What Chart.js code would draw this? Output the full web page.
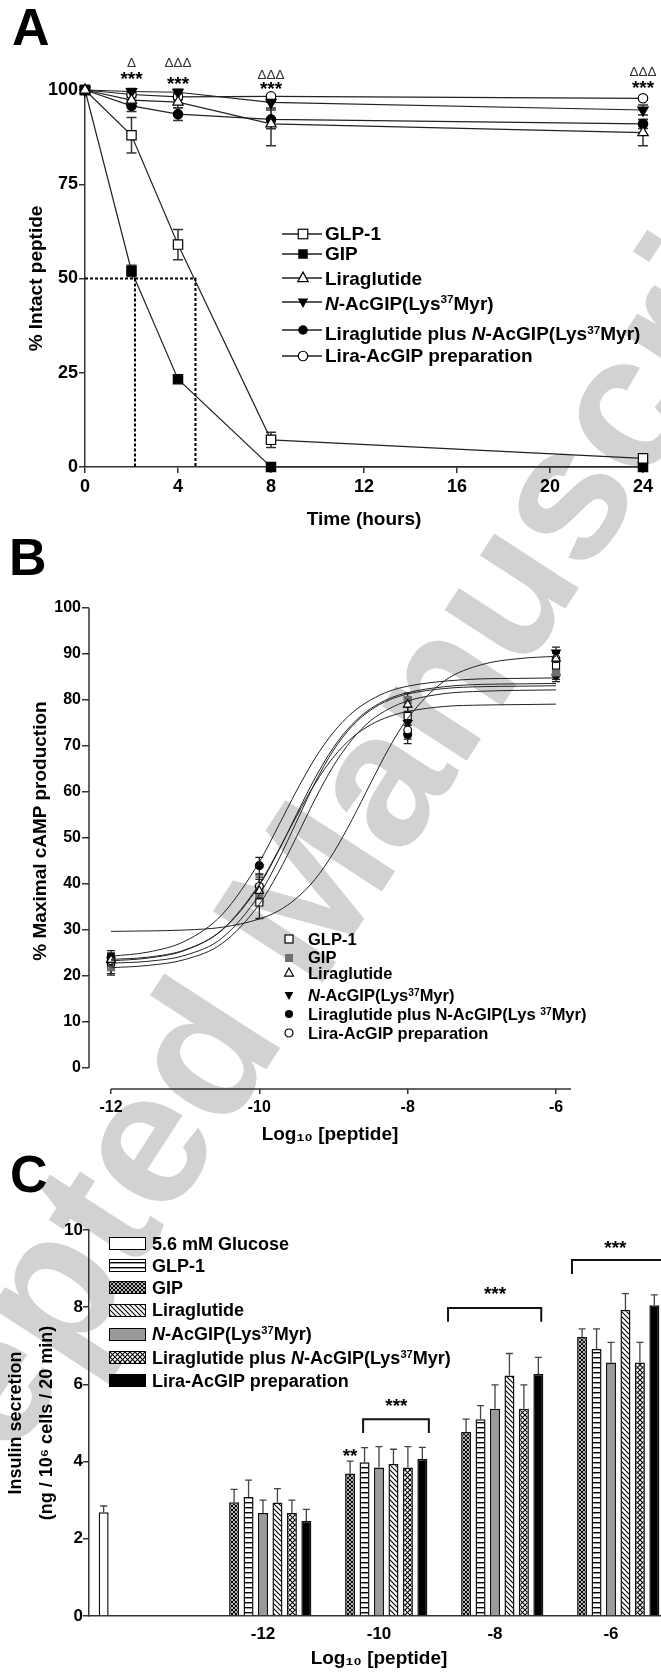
<!DOCTYPE html>
<html>
<head>
<meta charset="utf-8">
<title>Peptide stability, cAMP production and insulin secretion</title>
<script src="https://cdn.jsdelivr.net/npm/chart.js@4.4.1/dist/chart.umd.min.js"></script>
<style>
  html, body { margin:0; padding:0; background:#fff; }
  body { position:relative; width:661px; height:1676px; overflow:hidden;
         font-family:"Liberation Sans", Arial, sans-serif; font-weight:bold; color:#000; }
  canvas { position:absolute; left:0; z-index:1; }
  #wm { position:absolute; left:289px; top:913px; z-index:0; font-size:190px; color:#d2d2d2;
        white-space:nowrap; line-height:1; transform:translate(-50%,-50%) rotate(-57deg); }
  .abs { position:absolute; white-space:nowrap; line-height:1; z-index:2; }
  .panel { font-size:52px; }
  sup { font-size:62%; position:relative; top:-0.55em; vertical-align:baseline; line-height:0; }
  .sw { position:absolute; z-index:2; box-sizing:border-box; border:1.5px solid #000; width:37px; height:13px; }
  svg { position:absolute; z-index:2; overflow:visible; }
</style>
</head>
<body>
<div id="wm">Accepted Manuscript</div>
<div class="abs panel" style="left:12px;top:1px">A</div>
<div class="abs panel" style="left:9px;top:531px">B</div>
<div class="abs panel" style="left:10px;top:1148px">C</div>
<div class="abs" id="bTitleY" style="left:39px;top:831px;font-size:19px;transform:translate(-50%,-50%) rotate(-90deg)">% Maximal cAMP production</div>
<div id="legends"></div>
<canvas id="cA" width="661" height="540" style="top:0"></canvas>
<canvas id="cB" width="661" height="610" style="top:540px"></canvas>
<canvas id="cC" width="680" height="526" style="top:1150px"></canvas>
<script>
/* =================== A: stabilidade (% peptídeo intacto) =================== */
const timeHours   = [0, 2, 4, 8, 24];
const glp1A       = [100, 88, 59, 7.2, 2.3];
const glp1AErr    = [0, 4.7, 4.0, 2.0, 0.6];
const gipA        = [100, 52, 23.3, 0, 0];
const gipAErr     = [0, 1.5, 0.8, 0, 0];
const liraA       = [100, 97.3, 96.8, 91.0, 88.7];
const liraAErr    = [0, 1.5, 1.5, 5.8, 3.5];
const nacA        = [100, 99.6, 99.4, 96.7, 94.7];
const nacAErr     = [0, 0.8, 0.8, 1.5, 1.3];
const comboA      = [100, 95.8, 93.6, 92.2, 91.0];
const comboAErr   = [0, 1.5, 1.7, 2.5, 1.2];
const prepA       = [100, 98.8, 98.2, 98.3, 97.8];
const prepAErr    = [0, 0.8, 0.8, 0.5, 0.5];
const halfLifeGIP = 2.15, halfLifeGLP1 = 4.75;
const sigTimes    = [2, 4, 8, 24];
const starLevelA  = [101.3, 100.0, 98.7, 98.9];
const deltaLevelA = [106.1, 106.1, 102.9, 103.7];
const deltaTextA  = ["\u0394", "\u0394\u0394\u0394", "\u0394\u0394\u0394", "\u0394\u0394\u0394"];

/* =================== B: cAMP (dose-resposta) =================== */
const doseB      = [-12, -10, -8, -6];
const glp1B      = [23.0, 36.0, 76.5, 87.5];
const glp1BErr   = [1.8, 3.5, 2.0, 1.5];
const gipB       = [22.0, 38.0, 80.0, 86.0];
const gipBErr    = [1.8, 2.0, 1.5, 1.5];
const liraB      = [23.5, 38.5, 79.0, 89.0];
const liraBErr   = [1.5, 2.5, 1.5, 1.2];
const nacB       = [22.5, 39.0, 75.0, 90.3];
const nacBErr    = [2.0, 2.5, 1.8, 1.2];
const comboB     = [24.0, 44.0, 72.5, 85.5];
const comboBErr  = [1.5, 1.8, 2.0, 1.5];
const prepB      = [23.3, 39.5, 73.5, 89.0];
const prepBErr   = [1.5, 2.5, 2.0, 1.2];
// curvas ajustadas
const curveX   = [-12, -11.5, -11, -10.5, -10, -9.75, -9.5, -9.25, -9, -8.75, -8.5, -8.25, -8, -7.5, -7, -6.5, -6];
const glp1Fit  = [29.7, 29.8, 30.0, 30.6, 32.4, 34.1, 36.9, 41.0, 46.8, 54.0, 61.9, 69.6, 76.0, 84.2, 87.7, 89.0, 89.5];
const gipFit   = [22.8, 23.2, 24.5, 28.3, 37.7, 45.0, 53.5, 62.0, 69.1, 74.3, 77.8, 80.0, 81.3, 82.5, 82.9, 83.0, 83.1];
const liraFit  = [23.6, 24.1, 25.7, 30.0, 39.7, 46.9, 55.1, 63.0, 69.7, 74.7, 78.1, 80.3, 81.6, 82.9, 83.4, 83.5, 83.6];
const nacFit   = [21.8, 22.3, 23.6, 27.1, 35.6, 42.3, 50.2, 58.4, 65.7, 71.4, 75.5, 78.1, 79.8, 81.4, 81.9, 82.1, 82.2];
const comboFit = [24.3, 25.2, 27.6, 33.4, 44.8, 52.4, 60.2, 67.3, 73.0, 77.2, 80.0, 81.9, 83.0, 84.1, 84.6, 84.7, 84.8];
const prepFit  = [23.3, 23.9, 25.6, 30.1, 40.0, 47.1, 54.7, 61.8, 67.6, 71.8, 74.6, 76.4, 77.5, 78.6, 78.9, 79.0, 79.1];
const bTicksX  = [-12, -10, -8, -6];
const bTicksY  = [0, 10, 20, 30, 40, 50, 60, 70, 80, 90, 100];

/* =================== C: secreção de insulina =================== */
const doseLabels  = ["", "-12", "-10", "-8", "-6"];
const glucoseC    = [2.69, null, null, null, null];
const glucoseCErr = [0.16, 0, 0, 0, 0];
const gipC        = [0, 2.95, 3.69, 4.77, 7.23];
const gipCErr     = [0, 0.33, 0.32, 0.33, 0.21];
const glp1C       = [0, 3.08, 3.98, 5.10, 6.92];
const glp1CErr    = [0, 0.44, 0.38, 0.35, 0.52];
const nacC        = [0, 2.67, 3.85, 5.37, 6.57];
const nacCErr     = [0, 0.33, 0.54, 0.62, 0.52];
const liraC       = [0, 2.94, 3.94, 6.23, 7.93];
const liraCErr    = [0, 0.36, 0.38, 0.57, 0.42];
const comboC      = [0, 2.67, 3.85, 5.37, 6.57];
const comboCErr   = [0, 0.33, 0.54, 0.62, 0.52];
const prepC       = [0, 2.46, 4.07, 6.27, 8.05];
const prepCErr    = [0, 0.30, 0.30, 0.43, 0.27];
const bracketCat   = [2, 3, 4];
const bracketFrom  = [1.9, -0.25, 0.3];
const bracketTo    = [6.45, 6.2, 9.5];
const bracketLevel = [5.10, 7.98, 9.22];
const bracketDrop  = 0.36;
const starCat   = [2, 2, 3, 4];
const starSlot  = [1, 4.2, 3, 3.3];
const starLevel = [3.99, 5.28, 8.19, 9.38];
const starText  = ["**", "***", "***", "***"];

/* =================== estilos comuns =================== */
const FAM = '"Liberation Sans", Arial, sans-serif';
const bold = (size, extra) => Object.assign({family: FAM, size, weight: "bold"}, extra || {});
const AX = "#333";

/* --------------- plugins --------------- */
const errorBars = {
  id: "errorBars",
  beforeDatasetsDraw(chart){
    const {ctx, scales:{y}} = chart;
    chart.data.datasets.forEach((ds, di) => {
      if(!ds.errors) return;
      const meta = chart.getDatasetMeta(di);
      ctx.save();
      ctx.strokeStyle = ds.errColor || "#333";
      ctx.lineWidth = ds.errWidth || 1.4;
      meta.data.forEach((el, i) => {
        const d = ds.data[i];
        const v = (d && typeof d === "object") ? d.y : d;
        const e = ds.errors[i];
        if(v == null || !e) return;
        const x = el.x, c = (ds.cap || 8) / 2;
        const yt = y.getPixelForValue(v + e);
        const yb = ds.errUp ? y.getPixelForValue(v) : y.getPixelForValue(v - e);
        ctx.beginPath();
        ctx.moveTo(x, yb); ctx.lineTo(x, yt);
        ctx.moveTo(x - c, yt); ctx.lineTo(x + c, yt);
        if(!ds.errUp){ ctx.moveTo(x - c, yb); ctx.lineTo(x + c, yb); }
        ctx.stroke();
      });
      ctx.restore();
    });
  }
};

const annotA = {
  id: "annotA",
  afterDatasetsDraw(chart){
    const {ctx, scales:{x, y}} = chart;
    ctx.save();
    ctx.textAlign = "center"; ctx.textBaseline = "alphabetic";
    sigTimes.forEach((t, i) => {
      const px = x.getPixelForValue(t);
      ctx.fillStyle = "#000"; ctx.font = "bold 19px " + FAM;
      ctx.fillText("***", px, y.getPixelForValue(starLevelA[i]));
      ctx.fillStyle = "#333"; ctx.font = "13.5px " + FAM;
      ctx.fillText(deltaTextA[i], px, y.getPixelForValue(deltaLevelA[i]));
    });
    ctx.restore();
  }
};

// eixos "soltos" do painel B
const axisLinesB = {
  id: "axisLinesB",
  afterDraw(chart){
    const {ctx, chartArea:a, scales:{x, y}} = chart;
    ctx.save(); ctx.strokeStyle = AX; ctx.lineWidth = 1.5;
    ctx.beginPath();
    ctx.moveTo(x.getPixelForValue(bTicksX[0]), a.bottom); ctx.lineTo(a.right, a.bottom);
    ctx.moveTo(a.left, y.getPixelForValue(0)); ctx.lineTo(a.left, y.getPixelForValue(100));
    ctx.stroke(); ctx.restore();
  }
};

const annotC = {
  id: "annotC",
  afterDatasetsDraw(chart){
    const {ctx, scales:{y}} = chart;
    const m1 = chart.getDatasetMeta(1), m2 = chart.getDatasetMeta(2);
    const slotX = (c, s) => m1.data[c].x + (s - 1) * (m2.data[c].x - m1.data[c].x);
    ctx.save();
    ctx.strokeStyle = "#111"; ctx.lineWidth = 2;
    bracketCat.forEach((c, i) => {
      const x1 = slotX(c, bracketFrom[i]), x2 = slotX(c, bracketTo[i]);
      const yt = y.getPixelForValue(bracketLevel[i]);
      const yb = y.getPixelForValue(bracketLevel[i] - bracketDrop);
      ctx.beginPath();
      ctx.moveTo(x1, yb); ctx.lineTo(x1, yt); ctx.lineTo(x2, yt); ctx.lineTo(x2, yb);
      ctx.stroke();
    });
    ctx.fillStyle = "#000"; ctx.font = "bold 19px " + FAM; ctx.textAlign = "center";
    starCat.forEach((c, i) => ctx.fillText(starText[i], slotX(c, starSlot[i]), y.getPixelForValue(starLevel[i])));
    ctx.restore();
  }
};

/* --------------- padrões das barras --------------- */
function tile(size, draw){
  const c = document.createElement("canvas");
  c.width = c.height = size;
  const g = c.getContext("2d");
  g.fillStyle = "#fff"; g.fillRect(0, 0, size, size);
  g.strokeStyle = "#000"; g.fillStyle = "#000"; g.lineWidth = 1.1;
  draw(g, size);
  return c;
}
const back = (g, s) => { g.beginPath(); g.moveTo(-1, -1); g.lineTo(s + 1, s + 1);
  g.moveTo(-1, s - 1); g.lineTo(1, s + 1); g.moveTo(s - 1, -1); g.lineTo(s + 1, 1); g.stroke(); };
const fwd = (g, s) => { g.beginPath(); g.moveTo(-1, s + 1); g.lineTo(s + 1, -1);
  g.moveTo(-1, 1); g.lineTo(1, -1); g.moveTo(s - 1, s + 1); g.lineTo(s + 1, s - 1); g.stroke(); };
const tiles = {
  hlines:    tile(5, (g, s) => g.fillRect(0, 2, s, 1.4)),
  diag:      tile(5, back),
  crossFine: tile(4, (g, s) => { back(g, s); fwd(g, s); }),
  cross:     tile(5, (g, s) => { back(g, s); fwd(g, s); })
};
const pat = k => document.getElementById("cC").getContext("2d").createPattern(tiles[k], "repeat");

/* --------------- legendas (HTML) --------------- */
const shapes = {
  sqOpen:  s => `<rect x="${-s/2}" y="${-s/2}" width="${s}" height="${s}" fill="#fff" stroke="#000" stroke-width="1.2"/>`,
  sqFill:  s => `<rect x="${-s/2}" y="${-s/2}" width="${s}" height="${s}" fill="#000"/>`,
  sqGray:  s => `<rect x="${-s/2}" y="${-s/2}" width="${s}" height="${s}" fill="#707070"/>`,
  triOpen: s => `<polygon points="0,${-s*0.62} ${s*0.55},${s*0.38} ${-s*0.55},${s*0.38}" fill="#fff" stroke="#000" stroke-width="1.2"/>`,
  triDown: s => `<polygon points="0,${s*0.62} ${s*0.55},${-s*0.38} ${-s*0.55},${-s*0.38}" fill="#000"/>`,
  dotFill: s => `<circle r="${s/2}" fill="#000"/>`,
  dotOpen: s => `<circle r="${s/2}" fill="#fff" stroke="#000" stroke-width="1.2"/>`
};
const lysMyr = '<i>N</i>-AcGIP(Lys<sup>37</sup>Myr)';
const legendA = [
  ["sqOpen", 233.5, 233.5, "GLP-1"],
  ["sqFill", 253.5, 253.5, "GIP"],
  ["triOpen", 277.5, 278, "Liraglutide"],
  ["triDown", 302, 303, lysMyr],
  ["dotFill", 329.5, 333.5, "Liraglutide plus " + lysMyr],
  ["dotOpen", 355.5, 355.5, "Lira-AcGIP preparation"]
];
const legendB = [
  ["sqOpen", 938.6, "GLP-1"],
  ["sqGray", 957.5, "GIP"],
  ["triOpen", 973, "Liraglutide"],
  ["triDown", 995.4, lysMyr],
  ["dotFill", 1014.4, "Liraglutide plus N-AcGIP(Lys <sup>37</sup>Myr)"],
  ["dotOpen", 1033.3, "Lira-AcGIP preparation"]
];
const legendC = [
  [1243.9, "#fff", "5.6 mM Glucose"],
  [1265.7, "hlines", "GLP-1"],
  [1287.3, "crossFine", "GIP"],
  [1310, "diag", "Liraglutide"],
  [1334, "#9a9a9a", lysMyr],
  [1357.7, "cross", "Liraglutide plus " + lysMyr],
  [1380.7, "#000", "Lira-AcGIP preparation"]
];

let html = "";
legendA.forEach(([m, ym, yt, txt]) => {
  html += `<svg style="left:282px;top:${ym - 7}px" width="40" height="14"><line x1="0" y1="7" x2="40" y2="7" stroke="#222" stroke-width="1.3"/><g transform="translate(21,7)">${shapes[m](9.5)}</g></svg>`;
  html += `<div class="abs" style="left:325px;top:${yt - 9.3}px;font-size:19px">${txt}</div>`;
});
legendB.forEach(([m, y, txt]) => {
  html += `<svg style="left:284px;top:${y - 5}px" width="10" height="10"><g transform="translate(5,5)">${shapes[m](8)}</g></svg>`;
  html += `<div class="abs" style="left:308px;top:${y - 8.1}px;font-size:16.5px">${txt}</div>`;
});
legendC.forEach(([y, fill, txt]) => {
  const bg = tiles[fill] ? `background-image:url(${tiles[fill].toDataURL()})` : `background:${fill}`;
  html += `<div class="sw" style="left:109px;top:${y - 6.5}px;${bg}"></div>`;
  html += `<div class="abs" style="left:152px;top:${y - 8.8}px;font-size:18px">${txt}</div>`;
});
document.getElementById("legends").innerHTML = html;

/* =================== Chart A =================== */
const pts = (xs, ys) => xs.map((x, i) => ({x, y: ys[i]}));
function serieA(label, ys, errs, style, fill, radius, rot){
  return { label, data: pts(timeHours, ys), errors: errs, cap: 10, errColor: "#333", errWidth: 1.5,
    pointStyle: style, pointRotation: rot || 0, pointRadius: radius, pointBackgroundColor: fill,
    pointBorderColor: "#000", pointBorderWidth: 1.2, borderColor: "#222", borderWidth: 1.2,
    tension: 0, clip: false };
}
new Chart(document.getElementById("cA"), {
  type: "line",
  data: { datasets: [
    { label: "t½ GLP-1", data: pts([0, halfLifeGLP1, halfLifeGLP1], [50, 50, 0]), borderColor: "#000",
      borderWidth: 2, borderDash: [3, 2], pointRadius: 0, clip: false },
    { label: "t½ GIP", data: pts([halfLifeGIP, halfLifeGIP], [50, 0]), borderColor: "#000",
      borderWidth: 2, borderDash: [3, 2], pointRadius: 0, clip: false },
    serieA("Liraglutide", liraA, liraAErr, "triangle", "#fff", 6),
    serieA("Liraglutide plus N-AcGIP(Lys37Myr)", comboA, comboAErr, "circle", "#000", 4.7),
    serieA("N-AcGIP(Lys37Myr)", nacA, nacAErr, "triangle", "#000", 6, 180),
    serieA("Lira-AcGIP preparation", prepA, prepAErr, "circle", "#fff", 4.7),
    serieA("GLP-1", glp1A, glp1AErr, "rect", "#fff", 6.6),
    serieA("GIP", gipA, gipAErr, "rect", "#000", 6.6)
  ]},
  options: {
    responsive: false, animation: false,
    layout: { padding: { top: 90, right: 18, left: 0, bottom: 0 } },
    plugins: { legend: { display: false }, tooltip: { enabled: false } },
    scales: {
      x: { type: "linear", min: 0, max: 24,
        ticks: { stepSize: 4, font: bold(18), color: "#000", padding: 3 },
        grid: { drawOnChartArea: false, tickLength: 6, color: AX, lineWidth: 1.5 },
        border: { color: AX, width: 1.5 },
        title: { display: true, text: "Time (hours)", font: bold(19), color: "#000", padding: { top: 0, bottom: 9 } },
        afterFit: s => { s.height = 73; } },
      y: { min: 0, max: 100,
        ticks: { stepSize: 25, font: bold(18), color: "#000", padding: 1 },
        grid: { drawOnChartArea: false, tickLength: 6, color: AX, lineWidth: 1.5 },
        border: { color: AX, width: 1.5 },
        title: { display: true, text: "% Intact peptide", font: bold(19), color: "#000", padding: { top: 25, bottom: 0 } },
        afterFit: s => { s.width = 85; } }
    }
  },
  plugins: [errorBars, annotA]
});

/* =================== Chart B =================== */
const curva = (ys) => ({ data: pts(curveX, ys), borderColor: "#222", borderWidth: 1, pointRadius: 0,
  cubicInterpolationMode: "monotone" });
function marcaB(label, ys, errs, style, fill, radius, rot){
  return { label, data: pts(doseB, ys), errors: errs, cap: 8, errColor: "#222", errWidth: 1.3,
    showLine: false, pointStyle: style, pointRotation: rot || 0, pointRadius: radius,
    pointBackgroundColor: fill, pointBorderColor: fill === "#fff" ? "#000" : fill, pointBorderWidth: 1.1, clip: false };
}
new Chart(document.getElementById("cB"), {
  type: "line",
  data: { datasets: [
    curva(glp1Fit), curva(gipFit), curva(liraFit), curva(nacFit), curva(comboFit), curva(prepFit),
    marcaB("Liraglutide", liraB, liraBErr, "triangle", "#fff", 5),
    marcaB("Lira-AcGIP preparation", prepB, prepBErr, "circle", "#fff", 3.8),
    marcaB("GLP-1", glp1B, glp1BErr, "rect", "#fff", 5),
    marcaB("GIP", gipB, gipBErr, "rect", "#707070", 5),
    marcaB("N-AcGIP(Lys37Myr)", nacB, nacBErr, "triangle", "#000", 5, 180),
    marcaB("Liraglutide plus N-AcGIP(Lys37Myr)", comboB, comboBErr, "circle", "#000", 4)
  ]},
  options: {
    responsive: false, animation: false,
    layout: { padding: { top: 68, right: 90, left: 0, bottom: 0 } },
    plugins: { legend: { display: false }, tooltip: { enabled: false } },
    scales: {
      x: { type: "linear", min: -12.297, max: -5.798,
        afterBuildTicks: s => { s.ticks = bTicksX.map(v => ({ value: v })); },
        ticks: { font: bold(16), color: "#000", padding: 4 },
        grid: { drawOnChartArea: false, tickLength: 5, color: AX, lineWidth: 1.5 },
        border: { display: false },
        title: { display: true, text: "Log\u2081\u2080 [peptide]", font: bold(19), color: "#000", padding: { top: 0, bottom: 4 } },
        afterFit: s => { s.height = 61; } },
      y: { min: -4.565, max: 100,
        afterBuildTicks: s => { s.ticks = bTicksY.map(v => ({ value: v })); },
        ticks: { font: bold(16), color: "#000", padding: 1 },
        grid: { drawOnChartArea: false, tickLength: 7, color: AX, lineWidth: 1.5 },
        border: { display: false },
        afterFit: s => { s.width = 89; } }
    }
  },
  plugins: [errorBars, axisLinesB]
});

/* =================== Chart C =================== */
const barra = (label, vals, errs, fill) => ({ label, data: vals, errors: errs, errUp: true, cap: 7,
  errColor: "#444", errWidth: 1.3, backgroundColor: fill, borderColor: "#111", borderWidth: 1.5 });
new Chart(document.getElementById("cC"), {
  type: "bar",
  data: { labels: doseLabels, datasets: [
    barra("5.6 mM Glucose", glucoseC, glucoseCErr, "#fff"),
    barra("GIP", gipC, gipCErr, pat("crossFine")),
    barra("GLP-1", glp1C, glp1CErr, pat("hlines")),
    barra("N-AcGIP(Lys37Myr)", nacC, nacCErr, "#9a9a9a"),
    barra("Liraglutide", liraC, liraCErr, pat("diag")),
    barra("Liraglutide plus N-AcGIP(Lys37Myr)", comboC, comboCErr, pat("cross")),
    barra("Lira-AcGIP preparation", prepC, prepCErr, "#000")
  ]},
  options: {
    responsive: false, animation: false,
    layout: { padding: { top: 80, right: 11, left: 0, bottom: 0 } },
    datasets: { bar: { categoryPercentage: 0.872, barPercentage: 0.692 } },
    plugins: { legend: { display: false }, tooltip: { enabled: false } },
    scales: {
      x: { grid: { display: false, drawTicks: false },
        border: { display: true, color: AX, width: 1.5 },
        ticks: { font: bold(17), color: "#000", padding: 8 },
        title: { display: true, text: "Log\u2081\u2080 [peptide]", font: bold(19), color: "#000", padding: { top: 0, bottom: 6 } },
        afterFit: s => { s.height = 60; } },
      y: { min: 0, max: 10,
        ticks: { stepSize: 2, font: bold(17), color: "#000", padding: 0 },
        grid: { drawOnChartArea: false, tickLength: 6, color: AX, lineWidth: 1.5 },
        border: { color: AX, width: 1.5 },
        title: { display: true, text: ["Insulin secretion", "(ng / 10\u2076 cells / 20 min)"],
          font: bold(18, { lineHeight: 1.75 }), color: "#000", padding: { top: 0, bottom: 0 } },
        afterFit: s => { s.width = 89; } }
    }
  },
  plugins: [errorBars, annotC]
});
</script>
</body>
</html>
